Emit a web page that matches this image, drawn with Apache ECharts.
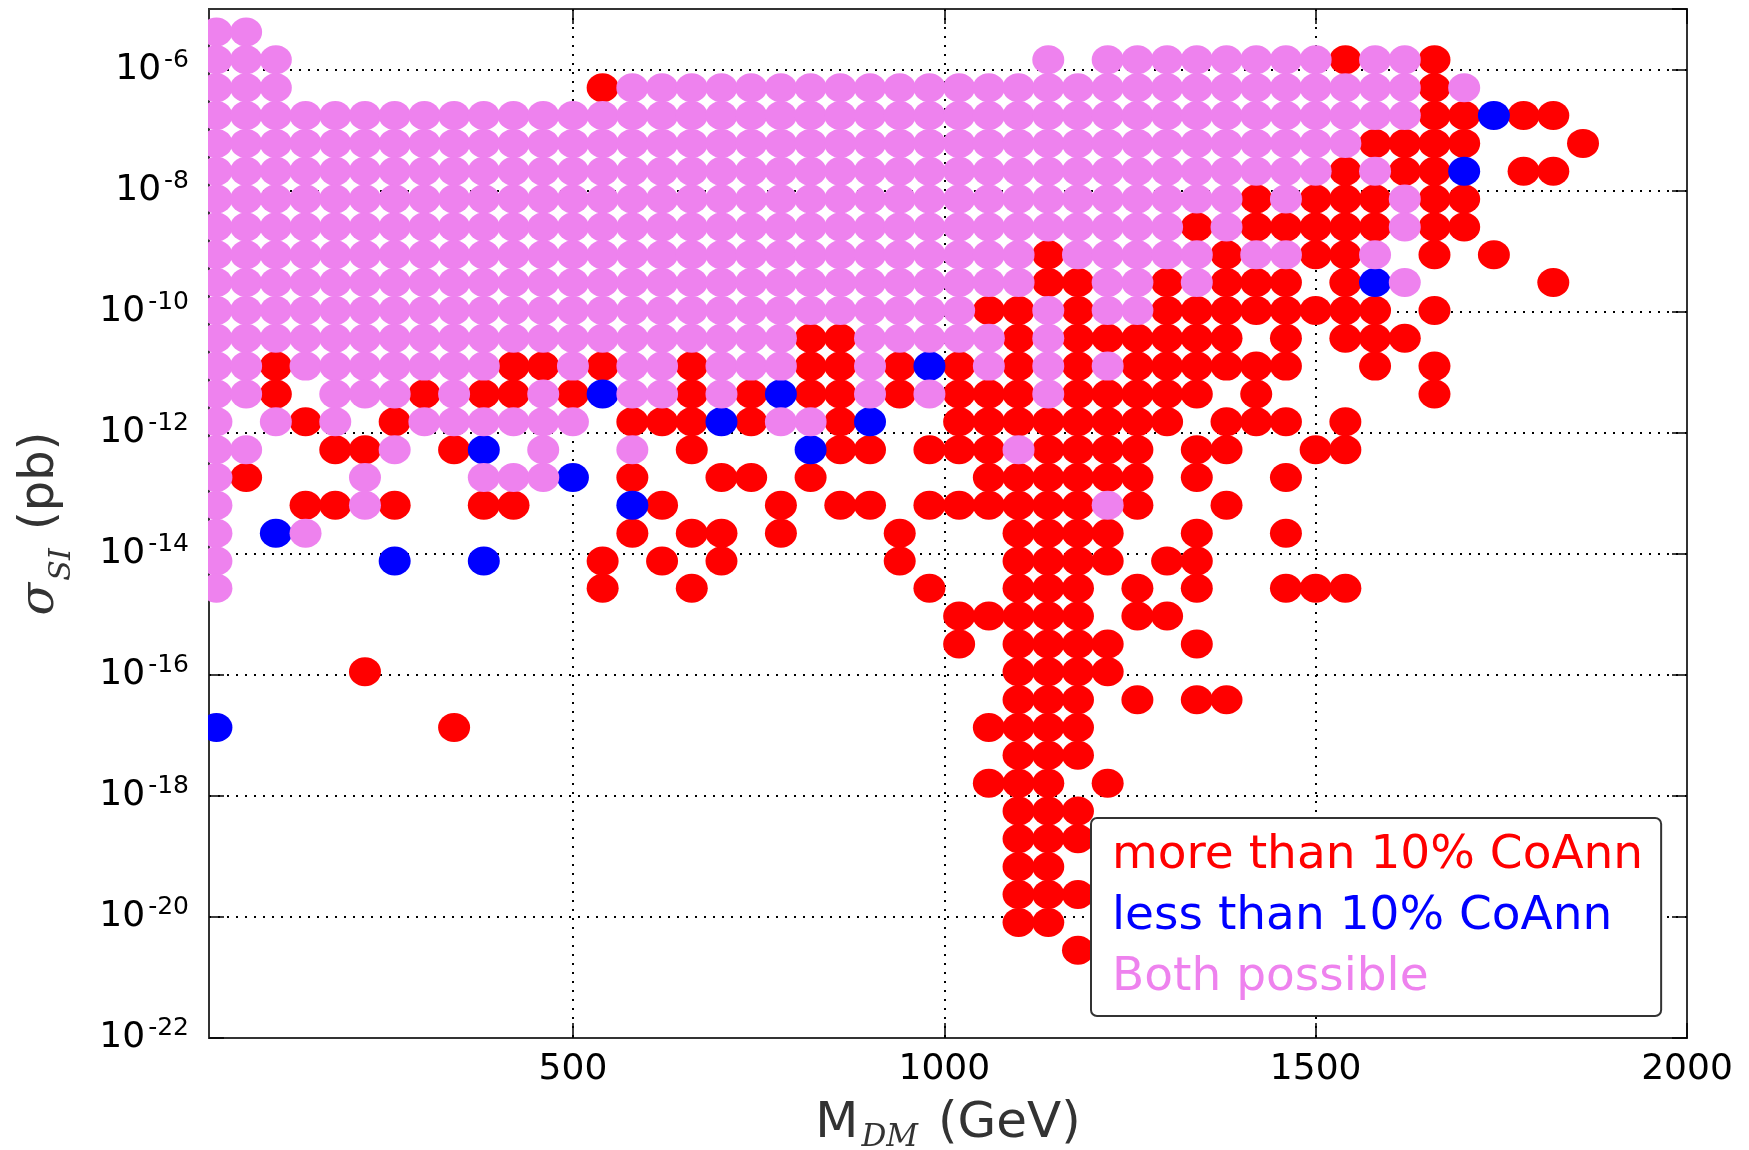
<!DOCTYPE html>
<html>
<head>
<meta charset="utf-8">
<script src="https://cdn.jsdelivr.net/npm/echarts@6/dist/echarts.min.js"></script>
<style>
html,body{margin:0;padding:0;background:#fff;}
#chart{width:1749px;height:1150px;}
</style>
</head>
<body>
<div id="chart"></div>
<script>
// log10 of sigma_SI (pb) for each row of the scan grid (top row first)
const rowLogSigma = [-5.38, -5.84, -6.30, -6.76, -7.22, -7.68, -8.14, -8.60, -9.06, -9.52,
  -9.98, -10.44, -10.90, -11.36, -11.82, -12.28, -12.74, -13.20, -13.66, -14.12,
  -14.57, -15.03, -15.49, -15.95, -16.41, -16.87, -17.33, -17.79, -18.25, -18.71,
  -19.17, -19.63, -20.09, -20.55];

// M_DM (GeV) of the points in each row: more than 10% CoAnn
const redRows = [
  [],
  [1540, 1660],
  [540, 1660],
  [1660, 1700, 1780, 1820],
  [1580, 1620, 1660, 1700, 1860],
  [1540, 1620, 1660, 1780, 1820],
  [1420, 1500, 1540, 1580, 1660, 1700],
  [1340, 1420, 1460, 1500, 1540, 1580, 1660, 1700],
  [1140, 1380, 1500, 1540, 1660, 1740],
  [1140, 1180, 1300, 1380, 1420, 1460, 1540, 1820],
  [1060, 1100, 1180, 1300, 1340, 1380, 1420, 1460, 1500, 1540, 1580, 1660],
  [820, 860, 1100, 1180, 1220, 1260, 1300, 1340, 1380, 1460, 1540, 1580, 1620],
  [100, 420, 460, 540, 660, 820, 860, 940, 1020, 1100, 1180, 1260, 1300, 1340, 1380, 1420, 1460, 1580, 1660],
  [100, 300, 380, 420, 500, 660, 740, 820, 860, 940, 1020, 1060, 1100, 1180, 1220, 1260, 1300, 1340, 1420, 1660],
  [140, 260, 580, 620, 660, 740, 860, 1020, 1060, 1100, 1140, 1180, 1220, 1260, 1300, 1380, 1420, 1460, 1540],
  [180, 220, 340, 660, 860, 900, 980, 1020, 1060, 1140, 1180, 1220, 1260, 1340, 1380, 1500, 1540],
  [60, 580, 700, 740, 820, 1060, 1100, 1140, 1180, 1220, 1260, 1340, 1460],
  [140, 180, 260, 380, 420, 620, 780, 860, 900, 980, 1020, 1060, 1100, 1140, 1180, 1260, 1380],
  [580, 660, 700, 780, 940, 1100, 1140, 1180, 1220, 1340, 1460],
  [540, 620, 700, 940, 1100, 1140, 1180, 1220, 1300, 1340],
  [540, 660, 980, 1100, 1140, 1180, 1260, 1340, 1460, 1500, 1540],
  [1020, 1060, 1100, 1140, 1180, 1260, 1300],
  [1020, 1100, 1140, 1180, 1220, 1340],
  [220, 1100, 1140, 1180, 1220],
  [1100, 1140, 1180, 1260, 1340, 1380],
  [340, 1060, 1100, 1140, 1180],
  [1100, 1140, 1180],
  [1060, 1100, 1140, 1220],
  [1100, 1140, 1180],
  [1100, 1140, 1180],
  [1100, 1140],
  [1100, 1140, 1180],
  [1100, 1140],
  [1180]
];

// less than 10% CoAnn
const blueRows = [
  [], [], [], [1740], [], [1700], [], [], [], [1580],
  [], [], [980], [540, 780], [700, 900], [380, 820], [500], [580], [100], [260, 380],
  [], [], [], [], [], [20], [], [], [], [],
  [], [], [], []
];

// Both possible
const pinkRows = [
  [20, 60],
  [20, 60, 100, 1140, 1220, 1260, 1300, 1340, 1380, 1420, 1460, 1500, 1580, 1620],
  [20, 60, 100, 580, 620, 660, 700, 740, 780, 820, 860, 900, 940, 980, 1020, 1060, 1100, 1140, 1180, 1220, 1260, 1300, 1340, 1380, 1420, 1460, 1500, 1540, 1580, 1620, 1700],
  [20, 60, 100, 140, 180, 220, 260, 300, 340, 380, 420, 460, 500, 540, 580, 620, 660, 700, 740, 780, 820, 860, 900, 940, 980, 1020, 1060, 1100, 1140, 1180, 1220, 1260, 1300, 1340, 1380, 1420, 1460, 1500, 1540, 1580, 1620],
  [20, 60, 100, 140, 180, 220, 260, 300, 340, 380, 420, 460, 500, 540, 580, 620, 660, 700, 740, 780, 820, 860, 900, 940, 980, 1020, 1060, 1100, 1140, 1180, 1220, 1260, 1300, 1340, 1380, 1420, 1460, 1500, 1540],
  [20, 60, 100, 140, 180, 220, 260, 300, 340, 380, 420, 460, 500, 540, 580, 620, 660, 700, 740, 780, 820, 860, 900, 940, 980, 1020, 1060, 1100, 1140, 1180, 1220, 1260, 1300, 1340, 1380, 1420, 1460, 1500, 1580],
  [20, 60, 100, 140, 180, 220, 260, 300, 340, 380, 420, 460, 500, 540, 580, 620, 660, 700, 740, 780, 820, 860, 900, 940, 980, 1020, 1060, 1100, 1140, 1180, 1220, 1260, 1300, 1340, 1380, 1460, 1620],
  [20, 60, 100, 140, 180, 220, 260, 300, 340, 380, 420, 460, 500, 540, 580, 620, 660, 700, 740, 780, 820, 860, 900, 940, 980, 1020, 1060, 1100, 1140, 1180, 1220, 1260, 1300, 1380, 1620],
  [20, 60, 100, 140, 180, 220, 260, 300, 340, 380, 420, 460, 500, 540, 580, 620, 660, 700, 740, 780, 820, 860, 900, 940, 980, 1020, 1060, 1100, 1180, 1220, 1260, 1300, 1340, 1420, 1460, 1580],
  [20, 60, 100, 140, 180, 220, 260, 300, 340, 380, 420, 460, 500, 540, 580, 620, 660, 700, 740, 780, 820, 860, 900, 940, 980, 1020, 1060, 1100, 1220, 1260, 1340, 1620],
  [20, 60, 100, 140, 180, 220, 260, 300, 340, 380, 420, 460, 500, 540, 580, 620, 660, 700, 740, 780, 820, 860, 900, 940, 980, 1020, 1140, 1220, 1260],
  [20, 60, 100, 140, 180, 220, 260, 300, 340, 380, 420, 460, 500, 540, 580, 620, 660, 700, 740, 780, 900, 940, 980, 1020, 1060, 1140],
  [20, 60, 140, 180, 220, 260, 300, 340, 380, 500, 580, 620, 700, 740, 780, 900, 1060, 1140, 1220],
  [20, 60, 180, 220, 260, 340, 460, 580, 620, 700, 900, 980, 1140],
  [20, 100, 180, 300, 340, 380, 420, 460, 500, 780, 820],
  [20, 60, 260, 460, 580, 1100],
  [20, 220, 380, 420, 460],
  [20, 220, 1220],
  [20, 140],
  [20],
  [20],
  [], [], [], [], [], [], [], [], [], [], [], [], []
];

const xTickValues = [500, 1000, 1500, 2000];
const seriesNames = ['more than 10% CoAnn', 'less than 10% CoAnn', 'Both possible'];
const seriesColors = ['#ff0000', '#0000ff', '#ee82ee'];

function toPoints(rows) {
  const pts = [];
  rows.forEach(function (masses, k) {
    masses.forEach(function (m) { pts.push([m, rowLogSigma[k]]); });
  });
  return pts;
}

const ellipse = 'path://M1,0A1,1,0,1,1,-1,0A1,1,0,1,1,1,0Z';
const FONT = 'DejaVu Sans';
const dotted = { type: [2, 7], color: '#000', width: 2 };

const chart = echarts.init(document.getElementById('chart'), null, { renderer: 'canvas' });

const seriesData = [toPoints(redRows), toPoints(blueRows), toPoints(pinkRows)];

chart.setOption({
  animation: false,
  backgroundColor: '#fff',
  grid: { left: 209, right: 62, top: 9, bottom: 112, containLabel: false, outerBoundsMode: 'none',
          show: true, borderColor: '#333', borderWidth: 2, backgroundColor: 'transparent' },
  legend: {
    orient: 'vertical', left: 1091, top: 818,
    icon: 'none', itemWidth: 0, itemHeight: 0, itemGap: 11,
    padding: [13, 18, 13, 16],
    backgroundColor: '#fff', borderColor: '#333', borderWidth: 2, borderRadius: 6,
    selectedMode: false,
    textStyle: { fontSize: 47, lineHeight: 50, fontFamily: FONT },
    data: seriesNames.map(function (n, i) { return { name: n, textStyle: { color: seriesColors[i] } }; })
  },
  xAxis: [{
    type: 'value', min: 10, max: 2000, position: 'bottom',
    name: '{m|M}{d|DM}{m| (GeV)}', nameLocation: 'middle', nameGap: 58,
    nameTextStyle: { color: '#333', rich: {
      m: { fontSize: 50, fontFamily: FONT, color: '#333', lineHeight: 56 },
      d: { fontSize: 31, fontFamily: 'DejaVu Serif', fontStyle: 'italic', color: '#333', lineHeight: 31, padding: [26, 4, 0, 3], verticalAlign: 'top' }
    } },
    axisLine: { show: true, lineStyle: { color: '#333', width: 2 } },
    axisTick: { show: true, inside: true, length: 15, customValues: xTickValues, lineStyle: { color: '#000', width: 1.5 } },
    axisLabel: { show: true, customValues: xTickValues, fontSize: 36, fontFamily: FONT, color: '#000', margin: 14,
                 formatter: function (v) { return String(v); } },
    splitLine: { show: true, lineStyle: dotted }
  }, {
    type: 'value', min: 10, max: 2000, position: 'top',
    axisLine: { show: true, lineStyle: { color: '#333', width: 2 } },
    axisTick: { show: true, inside: true, length: 15, customValues: xTickValues, lineStyle: { color: '#000', width: 1.5 } },
    axisLabel: { show: false },
    splitLine: { show: false }
  }],
  yAxis: [{
    type: 'value', min: -22, max: -5, interval: 2, position: 'left',
    name: '{sg|σ}{sub|SI}{p| (pb)}', nameLocation: 'middle', nameGap: 140,
    nameTextStyle: { color: '#333', rich: {
      sg: { fontSize: 48, fontFamily: 'DejaVu Serif', fontStyle: 'italic', color: '#333', lineHeight: 56 },
      sub: { fontSize: 30, fontFamily: 'DejaVu Serif', fontStyle: 'italic', color: '#333', lineHeight: 30, padding: [34, 3, 0, 2], verticalAlign: 'top' },
      p: { fontSize: 48, fontFamily: FONT, color: '#333', lineHeight: 56 }
    } },
    axisLine: { show: true, lineStyle: { color: '#333', width: 2 } },
    axisTick: { show: true, inside: true, length: 15, lineStyle: { color: '#000', width: 1.5 } },
    axisLabel: {
      show: true, margin: 20, showMaxLabel: false,
      formatter: function (v) { return '{b|10}{s|' + v + '}'; },
      rich: {
        b: { fontSize: 36, fontFamily: FONT, color: '#000', lineHeight: 44 },
        s: { fontSize: 25, fontFamily: FONT, color: '#000', lineHeight: 12, verticalAlign: 'top', padding: [0, 0, 0, 3] }
      }
    },
    splitLine: { show: true, lineStyle: dotted }
  }, {
    type: 'value', min: -22, max: -5, interval: 2, position: 'right',
    axisLine: { show: true, lineStyle: { color: '#333', width: 2 } },
    axisTick: { show: true, inside: true, length: 15, lineStyle: { color: '#000', width: 1.5 } },
    axisLabel: { show: false },
    splitLine: { show: false }
  }],
  graphic: [{
    type: 'rect', z: 100, silent: true,
    shape: { x: 194, y: 9, width: 14, height: 1029 },
    style: { fill: '#fff' }
  }],
  series: seriesNames.map(function (n, i) {
    return {
      name: n, type: 'scatter', xAxisIndex: 0, yAxisIndex: 0,
      symbol: ellipse, symbolSize: [32, 29],
      itemStyle: { color: seriesColors[i], opacity: 1 },
      emphasis: { disabled: true },
      data: seriesData[i],
      z: 2 + i
    };
  })
});
</script>
</body>
</html>
